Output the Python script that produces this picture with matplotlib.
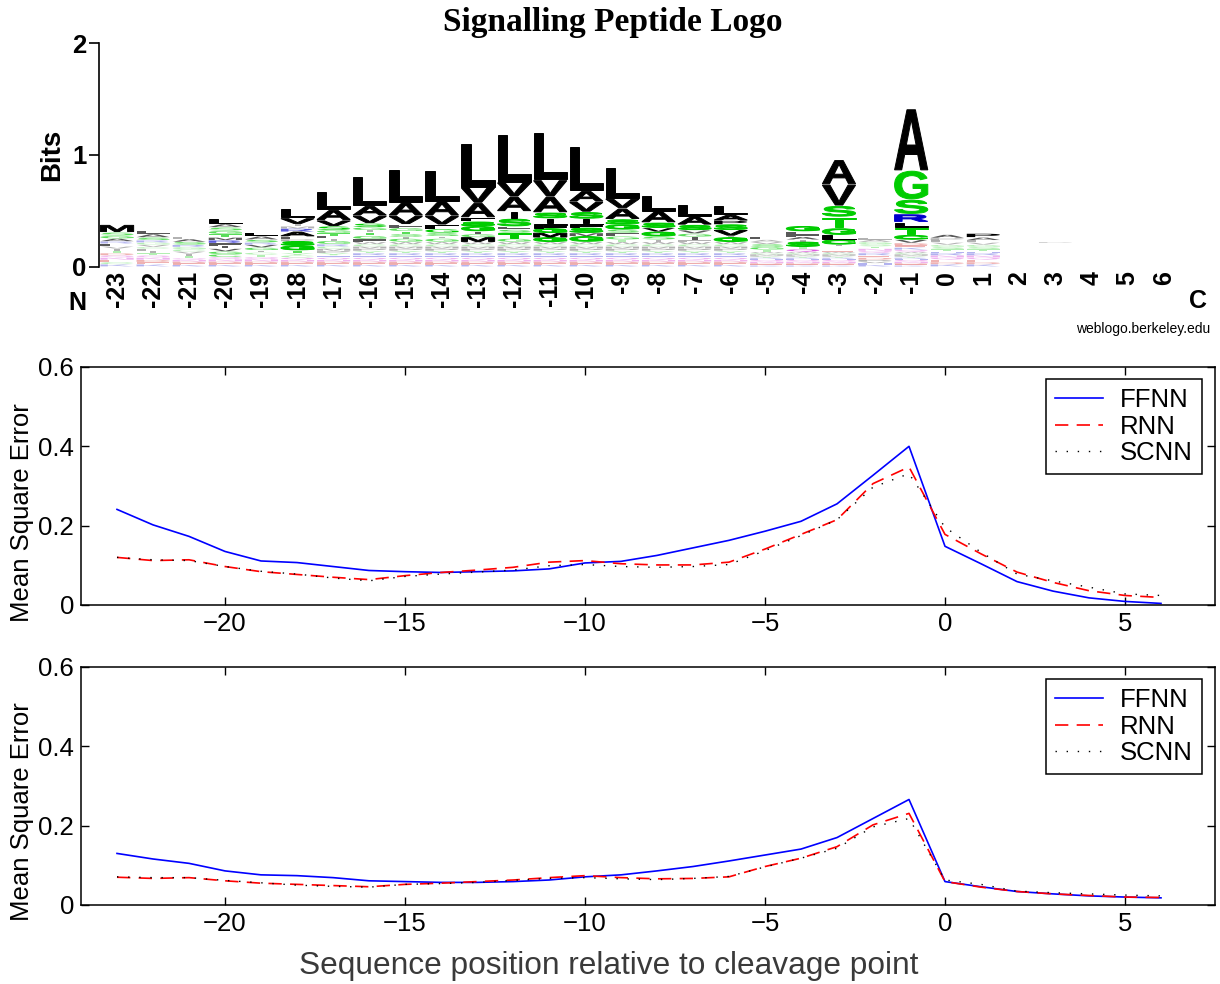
import matplotlib
matplotlib.use("Agg")
import matplotlib.pyplot as plt
from matplotlib.textpath import TextPath
from matplotlib.patches import PathPatch
from matplotlib.font_manager import FontProperties
from matplotlib.transforms import Affine2D

plt.rcParams['font.family'] = ['Liberation Sans', 'DejaVu Sans']

# ---- sequence logo: letters listed bottom -> top, heights in bits ----
logo_pos = list(range(-23, 7))
logo_letters = [
    "KCENQDTIVLRAGSM",        # -23
    "KEDNQTIFCVGRSAL",        # -22
    "KEDNQTIVCGRSAL",         # -21
    "KEDNQCGVIFRMTGSAL",      # -20
    "KEDNQTCIGVRSAL",         # -19
    "KEDNQCYTGSPFARMIVL",     # -18
    "KEDNQHYPMCRGIFTGSVAL",   # -17
    "KEDNQHRYPMCWFGTIGSVAL",  # -16
    "KEDNQHRYPMCWGISTGFVAL",  # -15
    "KEDNQHRYPMCWGISGFVAL",   # -14
    "KEDNQHRYPMCWMGIGSFAVL",  # -13
    "KEDNQHRYPMCWGTSFSIAVL",  # -12
    "KEDNQHRYPMCWGMGFISAVL",  # -11
    "KEDNQHRYPMCWGMSFISVAL",  # -10
    "KEDNQHRYPMCWTGFSGSAVL",  # -9
    "KEDNQHRYPMCWISGVSAL",    # -8
    "KEDNQHRYPMCWFIGVSAL",    # -7
    "KEDNQHRYPMCWGIVSPAL",    # -6
    "KEDNQHRYPMCWTGSVAL",     # -5
    "KEDNQHRYPMCWQTSIAFLG",   # -4
    "KEDNQHRYPMCWE ICLGTSVA", # -3
    "KHVPDERQNTSGAL",         # -2
    "KEDNQHRYPMCWQKEDVCTLRSGA",  # -1
    "KDEQNRHTSGVLPA",         # 0
    "KDEQNRHTSGVLAP",         # 1
    "",                       # 2
    " P",                     # 3
    "",                       # 4
    "",                       # 5
    "",                       # 6
]
F12 = [.015, .015, .015, .015, .02, .02, .02, .02, .02, .02, .02, .02]
F12s = [.01, .01, .01, .015, .015, .01, .01, .01, .01, .01, .01, .01]
logo_heights = [
    [.02, .02, .02, .02, .02, .02, .02, .02, .02, .025, .02, .025, .025, .03, .065],
    [.02, .02, .02, .02, .02, .02, .02, .02, .015, .02, .02, .02, .025, .03, .03],
    [.015, .015, .015, .015, .015, .02, .02, .02, .02, .02, .02, .025, .025, .02],
    [.015, .015, .015, .02, .02, .025, .025, .025, .025, .025, .025, .025, .03, .03, .03, .03, .05],
    [.015, .015, .015, .02, .02, .02, .02, .02, .025, .025, .02, .025, .03, .035],
    [.015, .015, .015, .015, .02, .02, .02, .025, .04, .04, .02, .025, .04, .03, .02, .02, .05, .09],
    [.015, .015, .015, .015, .02, .02, .02, .02, .02, .02, .02, .03, .02, .025, .025, .025, .035, .05, .095, .16],
    F12[:10] + [.02, .02, .025, .03, .03, .02, .025, .035, .065, .09, .26],
    F12 + [.03, .015, .025, .025, .03, .03, .075, .12, .30],
    F12 + [.03, .02, .03, .035, .035, .08, .13, .28],
    F12 + [.04, .03, .025, .045, .04, .035, .13, .14, .39],
    F12 + [.03, .05, .03, .025, .07, .065, .13, .13, .43],
    F12 + [.04, .04, .04, .04, .05, .05, .14, .15, .43],
    F12 + [.05, .03, .045, .04, .04, .06, .09, .10, .40],
    F12 + [.02, .03, .03, .03, .045, .045, .095, .09, .28],
    F12 + [.02, .03, .04, .035, .045, .10, .14],
    F12 + [.015, .03, .03, .03, .045, .075, .11],
    F12 + [.04, .015, .05, .05, .035, .05, .08],
    F12s + [.02, .025, .025, .02, .02, .025],
    F12s + [.025, .02, .045, .02, .025, .025, .025, .045],
    F12s + [.01, .04, .015, .045, .04, .06, .10, .10, .19, .22],
    [.015, .015, .015, .015, .02, .02, .02, .02, .02, .02, .02, .02, .02, .02],
    F12s + [.02, .02, .02, .02, .03, .04, .07, .045, .07, .13, .26, .55],
    [.02, .02, .02, .02, .02, .02, .015, .02, .02, .02, .02, .02, .02, .03],
    [.02, .02, .02, .02, .02, .02, .015, .02, .02, .02, .02, .02, .025, .035],
    [],
    [.215, .006],
    [], [], [],
]
logo_ticklabels = [str(p) for p in logo_pos]

# ---- mean square error curves ----
x_pos = list(range(-23, 7))
ffnn_a = [0.241, 0.202, 0.173, 0.135, 0.111, 0.107, 0.097, 0.087, 0.084, 0.082,
          0.084, 0.086, 0.091, 0.106, 0.110, 0.125, 0.144, 0.163, 0.186, 0.211,
          0.255, 0.327, 0.400, 0.148, 0.104, 0.059, 0.035, 0.018, 0.009, 0.004]
rnn_a = [0.120, 0.112, 0.114, 0.097, 0.084, 0.077, 0.070, 0.064, 0.074, 0.082,
         0.088, 0.095, 0.108, 0.112, 0.104, 0.101, 0.101, 0.108, 0.141, 0.178,
         0.215, 0.306, 0.348, 0.178, 0.129, 0.083, 0.057, 0.036, 0.024, 0.019]
scnn_a = [0.120, 0.114, 0.112, 0.097, 0.085, 0.078, 0.068, 0.061, 0.072, 0.078,
          0.083, 0.088, 0.099, 0.102, 0.097, 0.095, 0.097, 0.102, 0.137, 0.175,
          0.215, 0.297, 0.331, 0.196, 0.133, 0.078, 0.061, 0.045, 0.028, 0.024]

ffnn_b = [0.130, 0.116, 0.105, 0.086, 0.076, 0.074, 0.069, 0.061, 0.059, 0.057,
          0.057, 0.059, 0.063, 0.071, 0.076, 0.086, 0.097, 0.111, 0.126, 0.141,
          0.170, 0.218, 0.266, 0.059, 0.046, 0.034, 0.028, 0.023, 0.020, 0.018]
rnn_b = [0.070, 0.067, 0.069, 0.061, 0.055, 0.052, 0.049, 0.046, 0.052, 0.055,
         0.059, 0.063, 0.069, 0.074, 0.069, 0.066, 0.067, 0.071, 0.097, 0.118,
         0.147, 0.202, 0.231, 0.059, 0.045, 0.034, 0.028, 0.024, 0.020, 0.019]
scnn_b = [0.071, 0.069, 0.069, 0.062, 0.056, 0.050, 0.047, 0.045, 0.052, 0.054,
          0.057, 0.062, 0.067, 0.069, 0.066, 0.064, 0.067, 0.072, 0.096, 0.118,
          0.143, 0.197, 0.218, 0.063, 0.052, 0.035, 0.031, 0.028, 0.025, 0.023]

series_names = ['FFNN', 'RNN', 'SCNN']

COLORS = {}
for c in 'AVLIMFWP':
    COLORS[c] = '#000000'
for c in 'GSTYC':
    COLORS[c] = '#00cc00'
for c in 'NQ':
    COLORS[c] = '#cc00cc'
for c in 'KRH':
    COLORS[c] = '#0000cc'
for c in 'DE':
    COLORS[c] = '#cc0000'

letter_font = FontProperties(family='Liberation Sans', weight='bold')


def draw_letter(ax, ch, x, y, w, h):
    tp = TextPath((0, 0), ch, size=1, prop=letter_font)
    bb = tp.get_extents()
    if ch == 'I':
        w = w * 0.18
    gap = min(0.15 * h, 0.012)
    hh = h - gap
    tr = (Affine2D().translate(-bb.x0, -bb.y0)
          .scale(w / bb.width, hh / bb.height)
          .translate(x - w / 2, y + gap))
    # tiny letters come out faint, like the antialiased originals
    if h <= 0.02:
        alpha = 0.3
    elif h <= 0.03:
        alpha = 0.65
    else:
        alpha = 1.0
    lw = 0.7 if h >= 0.04 else 0
    ax.add_patch(PathPatch(tr.transform_path(tp), fc=COLORS[ch], ec=COLORS[ch],
                           lw=lw, alpha=alpha))


W, H = 1220, 984
fig = plt.figure(figsize=(W / 100, H / 100), dpi=100)

# ---- logo panel ----
ax0 = fig.add_axes([99 / W, (H - 266.7) / H, (1218 - 99) / W, 223.4 / H])
ax0.set_xlim(-23.5, 7.5)
ax0.set_ylim(0, 2)
for s in ['top', 'right', 'bottom']:
    ax0.spines[s].set_visible(False)
ax0.spines['left'].set_linewidth(1.2)
for p, letters, heights in zip(logo_pos, logo_letters, logo_heights):
    y = 0.0
    for ch, h in zip(letters, heights):
        if ch != ' ':
            draw_letter(ax0, ch, p, y, 0.92, h)
        y += h
ax0.set_yticks([0, 1, 2])
ax0.set_yticklabels(['0', '1', '2'], fontsize=18.5, fontweight='bold')
ax0.tick_params(axis='y', direction='out', length=7, width=1.2, pad=2)
ax0.set_xticks(logo_pos)
ax0.set_xticklabels(logo_ticklabels, rotation=90, fontsize=18, fontweight='bold')
ax0.tick_params(axis='x', length=0, pad=3)

fig.text(613 / W, 1 - 22 / H, 'Signalling Peptide Logo', family='Liberation Serif',
         fontweight='bold', fontsize=24, ha='center', va='center')
fig.text(52 / W, 1 - 155 / H, 'Bits', rotation=90, fontsize=20, fontweight='bold',
         ha='center', va='center')
fig.text(77 / W, 1 - 303 / H, 'N', fontsize=18, fontweight='bold', ha='center', va='center')
fig.text(1198 / W, 1 - 301 / H, 'C', fontsize=18, fontweight='bold', ha='center', va='center')
fig.text(1210 / W, 1 - 329 / H, 'weblogo.berkeley.edu', fontsize=10, ha='right', va='center')


def mse_panel(rect, ffnn, rnn, scnn, ylab_y, leg_top):
    ax = fig.add_axes(rect)
    ax.plot(x_pos, ffnn, color='#0000ff', lw=1.2, ls='-', label=series_names[0])
    ax.plot(x_pos, rnn, color='#ff0000', lw=1.2, ls=(0, (8, 5)), label=series_names[1])
    ax.plot(x_pos, scnn, color='#000000', lw=1.0, ls=(0, (1, 7)), label=series_names[2])
    ax.set_xlim(-24, 7.5)
    ax.set_ylim(0, 0.6)
    ax.set_xticks([-20, -15, -10, -5, 0, 5])
    ax.set_yticks([0, 0.2, 0.4, 0.6])
    ax.set_yticklabels(['0', '0.2', '0.4', '0.6'])
    ax.tick_params(direction='in', top=True, right=True, length=6, width=1.0,
                   labelsize=18.5, pad=5)
    for s in ax.spines.values():
        s.set_linewidth(1.1)
    leg = ax.legend(loc='upper right', bbox_to_anchor=(1202 / W, 1 - leg_top / H),
                    bbox_transform=fig.transFigure, fontsize=18.5, frameon=True,
                    fancybox=False, framealpha=1, edgecolor='black', borderaxespad=0,
                    handlelength=1.9, handletextpad=0.65, labelspacing=0.1, borderpad=0.35)
    leg.get_frame().set_linewidth(1.1)
    fig.text(22 / W, 1 - ylab_y / H, 'Mean Square Error', rotation=90, fontsize=18.5,
             ha='center', va='center')
    return ax


mse_panel([81 / W, (H - 605) / H, 1134 / W, 238 / H], ffnn_a, rnn_a, scnn_a, 513, 379)
mse_panel([81 / W, (H - 905) / H, 1134 / W, 238 / H], ffnn_b, rnn_b, scnn_b, 812, 679)

fig.text(609 / W, 1 - 966 / H, 'Sequence position relative to cleavage point',
         fontsize=22.8, color='#3a3a3a', ha='center', va='center')

fig.savefig('out.png', dpi=100)
